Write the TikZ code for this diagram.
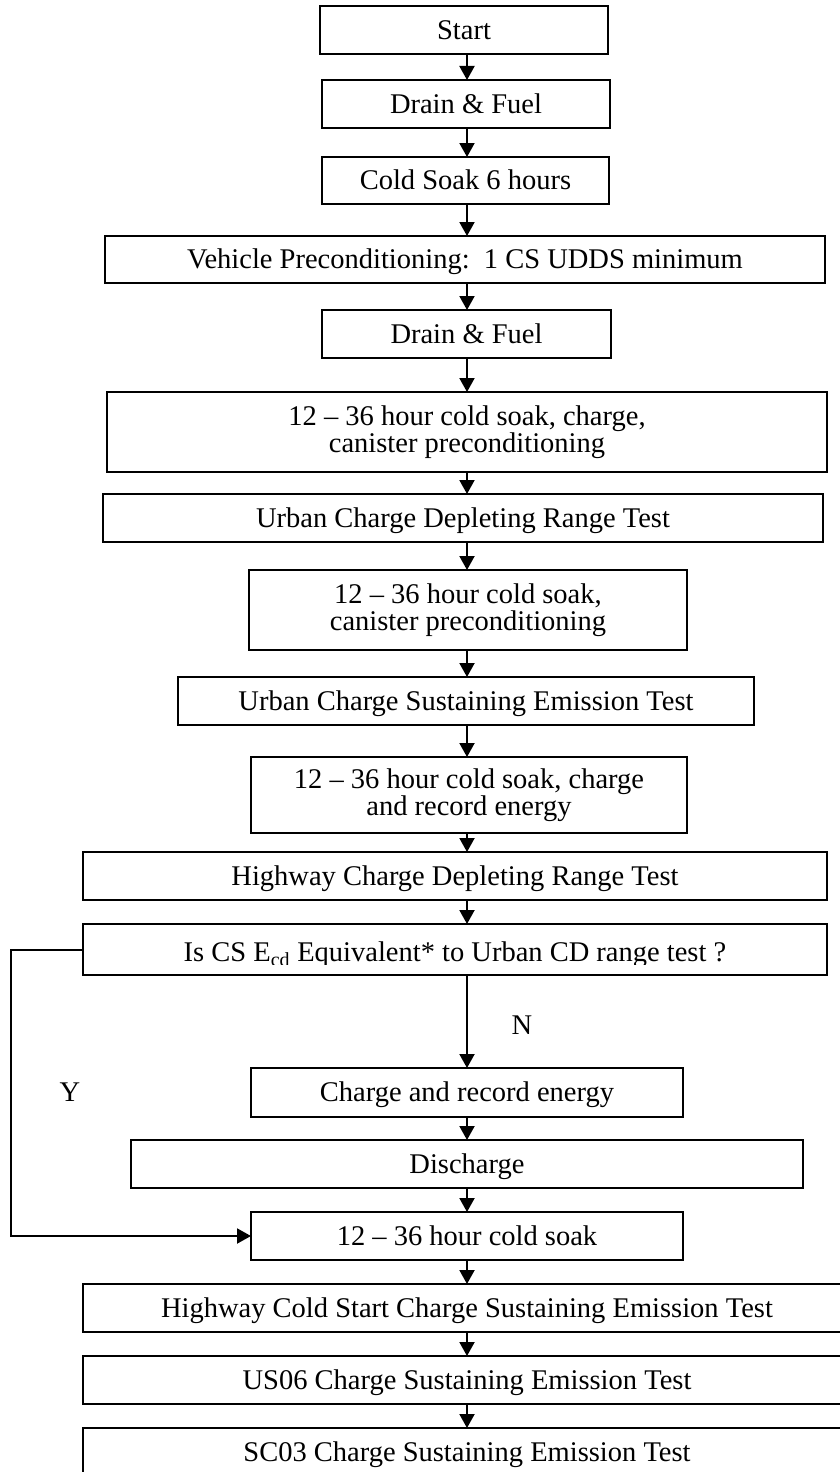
\documentclass[tikz,border=0pt]{standalone}
\usepackage{fontspec}
\setmainfont{Liberation Serif}
\usetikzlibrary{arrows.meta}
\newcommand\figfont{\fontsize{28.5}{27}\selectfont}
\begin{document}
\begin{tikzpicture}[x=1pt,y=-1pt,
  box/.style={draw, line width=1.5pt, inner sep=0pt, outer sep=0pt, font=\figfont, text height=18.8pt, text depth=0pt},
  boxtwo/.style={draw, line width=1.5pt, inner sep=0pt, outer sep=0pt, font=\figfont, align=center},
  arr/.style={line width=2pt, -{Triangle[length=14pt,width=15pt]}},
  lbl/.style={font=\figfont, inner sep=0pt, text height=18.8pt, text depth=0pt}]
\useasboundingbox (0,0) rectangle (840,1472);
\clip (0,0) rectangle (840,1472);
\coordinate (xc) at (467,0);

\node[box, minimum width=288pt, minimum height=48pt] (start) at (464,30) {Start};
\node[box, minimum width=288pt, minimum height=48pt] (drain1) at (466,104) {Drain \& Fuel};
\node[box, minimum width=287pt, minimum height=47pt] (cold) at (465.5,180.5) {Cold Soak 6 hours};
\node[box, minimum width=720pt, minimum height=47pt] (veh) at (465,259.5) {Vehicle Preconditioning:\ \ 1 CS UDDS minimum};
\node[box, minimum width=289pt, minimum height=48pt] (drain2) at (466.5,334) {Drain \& Fuel};
\node[boxtwo, minimum width=720pt, minimum height=80pt] (soak1) at (467,432) {12 -- 36 hour cold soak, charge,\\canister preconditioning};
\node[box, minimum width=720pt, minimum height=48pt] (ucd) at (463,518) {Urban Charge Depleting Range Test};
\node[boxtwo, minimum width=438pt, minimum height=80pt] (soak2) at (468,610) {12 -- 36 hour cold soak,\\canister preconditioning};
\node[box, minimum width=576pt, minimum height=48pt] (ucs) at (466,701) {Urban Charge Sustaining Emission Test};
\node[boxtwo, minimum width=436pt, minimum height=76pt] (soak3) at (469,795) {12 -- 36 hour cold soak, charge\\and record energy};
\node[box, minimum width=744pt, minimum height=48pt] (hcd) at (455,876) {Highway Charge Depleting Range Test};
\node[box, minimum width=744pt, minimum height=51pt] (q) at (455,949.5) {};
\begin{scope}
  \clip (84,925) rectangle (826,964);
  \node[lbl, anchor=base] (qtext) at (455,961) {Is CS E\textsubscript{cd} Equivalent* to Urban CD range test ?};
\end{scope}
\node[box, minimum width=432pt, minimum height=49pt] (crec) at (467,1092.5) {Charge and record energy};
\node[box, minimum width=672pt, minimum height=48pt] (dis) at (467,1164) {Discharge};
\node[box, minimum width=432pt, minimum height=48pt] (soak4) at (467,1236) {12 -- 36 hour cold soak};
\node[box, minimum width=768pt, minimum height=48pt] (hcs) at (467,1308) {Highway Cold Start Charge Sustaining Emission Test};
\node[box, minimum width=768pt, minimum height=48pt] (us06) at (467,1380) {US06 Charge Sustaining Emission Test};
\node[box, minimum width=768pt, minimum height=48pt] (sc03) at (467,1452) {SC03 Charge Sustaining Emission Test};

\draw[arr] (start.south -| xc) -- (drain1.north -| xc);
\draw[arr] (drain1.south -| xc) -- (cold.north -| xc);
\draw[arr] (cold.south -| xc) -- (veh.north -| xc);
\draw[arr] (veh.south -| xc) -- (drain2.north -| xc);
\draw[arr] (drain2.south -| xc) -- (soak1.north -| xc);
\draw[arr] (soak1.south -| xc) -- (ucd.north -| xc);
\draw[arr] (ucd.south -| xc) -- (soak2.north -| xc);
\draw[arr] (soak2.south -| xc) -- (ucs.north -| xc);
\draw[arr] (ucs.south -| xc) -- (soak3.north -| xc);
\draw[arr] (soak3.south -| xc) -- (hcd.north -| xc);
\draw[arr] (hcd.south -| xc) -- (q.north -| xc);
\draw[arr] (q.south -| xc) -- (crec.north -| xc);
\draw[arr] (crec.south -| xc) -- (dis.north -| xc);
\draw[arr] (dis.south -| xc) -- (soak4.north -| xc);
\draw[arr] (soak4.south -| xc) -- (hcs.north -| xc);
\draw[arr] (hcs.south -| xc) -- (us06.north -| xc);
\draw[arr] (us06.south -| xc) -- (sc03.north -| xc);

\coordinate (yl) at (11,0);
\draw[arr] (q.west) -- (q.west -| yl) -- (soak4.west -| yl) -- (soak4.west);

\node[lbl] (nlab) at (522,1025) {N};
\node[lbl] (ylab) at (70,1092) {Y};
\end{tikzpicture}
\end{document}
